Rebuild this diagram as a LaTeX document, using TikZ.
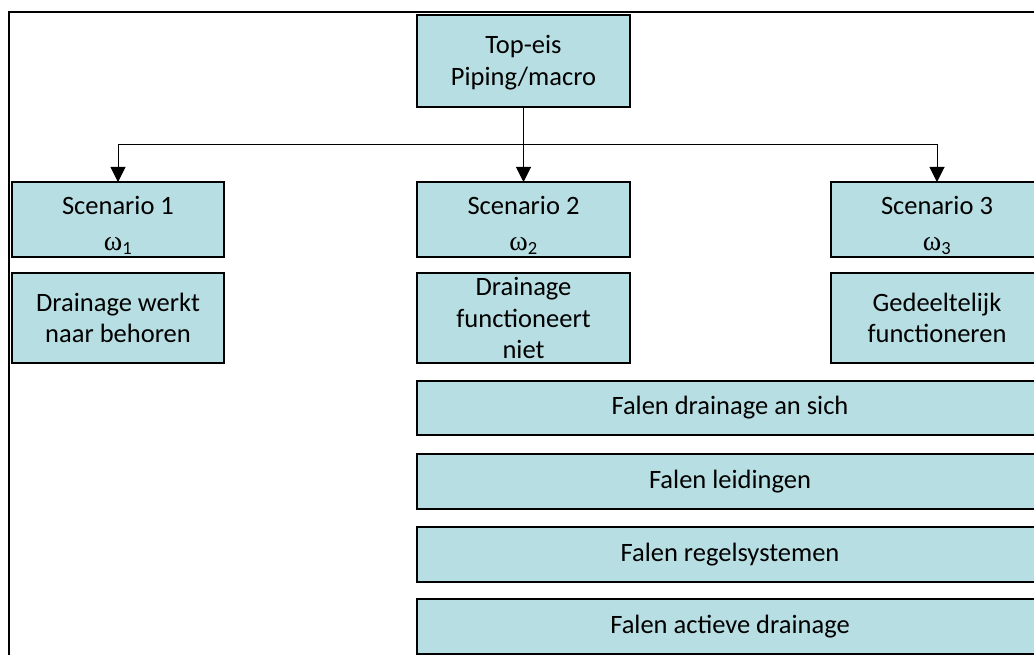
\documentclass[tikz,border=0pt]{standalone}
\usepackage{fontspec}
\setmainfont{Carlito}
\newfontfamily\greekfont{Liberation Serif}
\usetikzlibrary{arrows.meta}
\definecolor{boxfill}{RGB}{183,222,226}
\newcommand{\omegasub}[1]{{\greekfont\fontsize{28}{30}\selectfont ω}\textsubscript{#1}}
\newcommand{\scenlabel}[1]{\rule{0pt}{30pt}Scenario #1\\[5pt]\omegasub{#1}}
\tikzset{
  stepbox/.style={draw=black, line width=2pt, fill=boxfill, inner sep=0pt, outer sep=0pt,
    anchor=north west, align=center, font=\fontsize{26.5}{31.5}\selectfont},
  link/.style={draw=black, line width=1pt, -{Triangle[width=15pt,length=15pt]}},
  frame/.style={draw=black, line width=1.5pt}
}
\begin{document}
\begin{tikzpicture}[x=1pt,y=-1pt]
\useasboundingbox (0,0) rectangle (1034,655);
\clip (0,0) rectangle (1034,655);
% surrounding frame, running off the page at right and bottom
\draw[frame] (9,12) rectangle (1100,700);

% top event
\node[stepbox, minimum width=213pt, minimum height=92pt] (top) at (417,15) {\rule{0pt}{22pt}Top-eis\\Piping/macro};

% scenarios
\node[stepbox, minimum width=212pt, minimum height=75pt] (s1) at (12,182) {\scenlabel{1}};
\node[stepbox, minimum width=213pt, minimum height=75pt] (s2) at (417,182) {\scenlabel{2}};
\node[stepbox, minimum width=212pt, minimum height=75pt] (s3) at (831,182) {\scenlabel{3}};

% scenario descriptions
\node[stepbox, minimum width=212pt, minimum height=90pt] (d1) at (12,273) {Drainage werkt\\naar behoren};
\node[stepbox, minimum width=213pt, minimum height=90pt] (d2) at (417,273) {Drainage\\functioneert\\niet};
\node[stepbox, minimum width=212pt, minimum height=90pt] (d3) at (831,273) {Gedeeltelijk\\functioneren};

% failure modes of scenario 2
\node[stepbox, minimum width=626pt, minimum height=54pt] (f1) at (417,381) {Falen drainage an sich};
\node[stepbox, minimum width=626pt, minimum height=55pt] (f2) at (417,454) {Falen leidingen};
\node[stepbox, minimum width=626pt, minimum height=55pt] (f3) at (417,527) {Falen regelsystemen};
\node[stepbox, minimum width=626pt, minimum height=55pt] (f4) at (417,599) {Falen actieve drainage};

% connectors
\coordinate (hub) at (top.south |- 0,145);
\draw[link] (top.south) -- (s2.north);
\draw[link] (hub) -| (s1.north);
\draw[link] (hub) -| (s3.north);
\end{tikzpicture}
\end{document}
